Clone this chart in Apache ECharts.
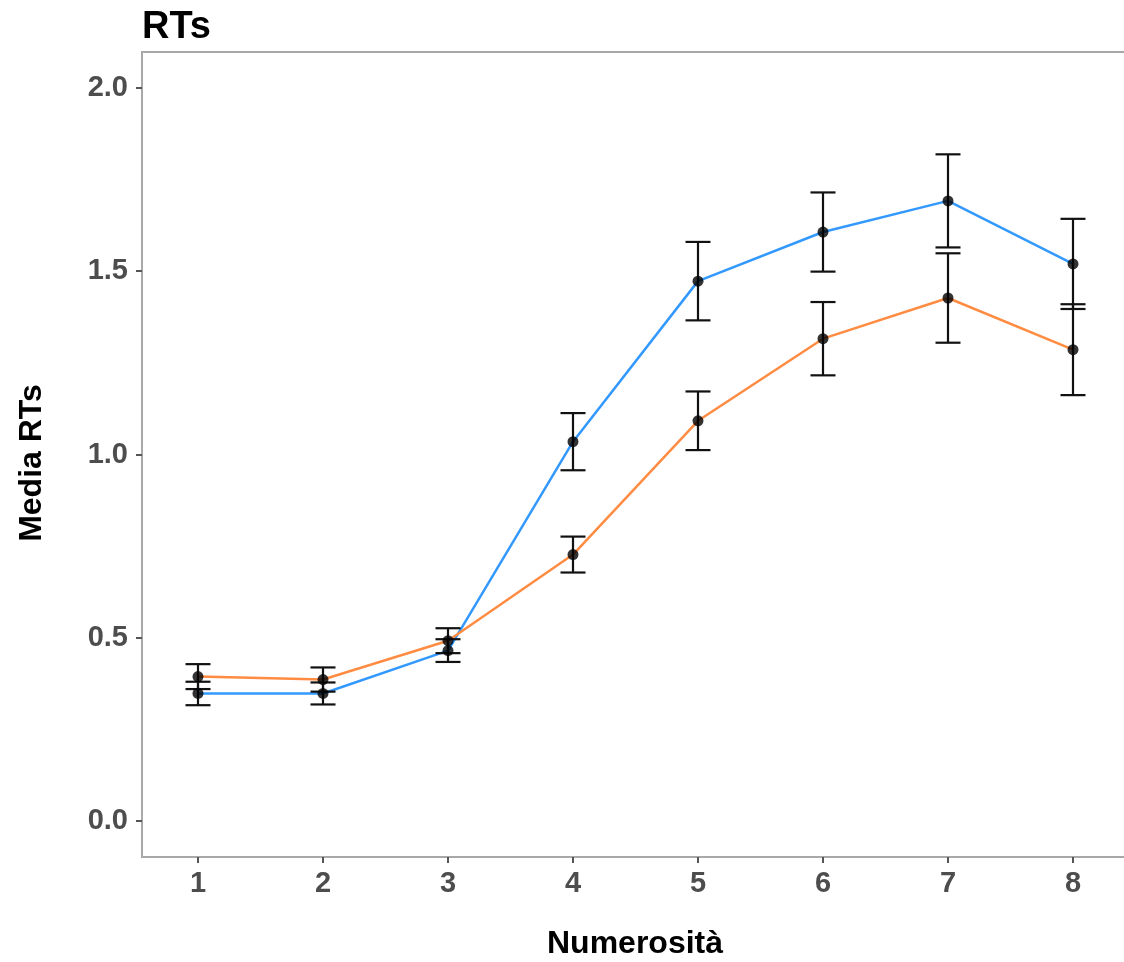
<!DOCTYPE html>
<html>
<head>
<meta charset="utf-8">
<script src="https://cdn.jsdelivr.net/npm/echarts@6/dist/echarts.min.js"></script>
<style>
  html, body { margin: 0; padding: 0; background: #fff; }
  #chart { width: 1124px; height: 962px; }
</style>
</head>
<body>
<div id="chart"></div>
<script>
// Numerosity levels on the x axis
const numerosita = [1, 2, 3, 4, 5, 6, 7, 8];

// Mean reaction times and standard errors, two conditions
const meanBlue = [0.348, 0.348, 0.465, 1.035, 1.473, 1.607, 1.692, 1.520];
const seBlue   = [0.032, 0.030, 0.031, 0.078, 0.107, 0.108, 0.127, 0.123];
const meanOrange = [0.394, 0.386, 0.492, 0.727, 1.092, 1.316, 1.427, 1.286];
const seOrange   = [0.034, 0.033, 0.034, 0.049, 0.080, 0.100, 0.122, 0.124];

// Axis ticks
const yTicks = [0, 0.5, 1.0, 1.5, 2.0];
const xTicks = numerosita;

const BLUE = '#3399FF';
const ORANGE = '#FF8C42';
const FONT = 'Liberation Sans, Arial, sans-serif';

const pairs = (xs, ys) => xs.map((x, i) => [x, ys[i]]);
const errRows = (xs, m, s) => xs.map((x, i) => [x, m[i] - s[i], m[i] + s[i]]);

// Error bar with horizontal caps
function renderErr(params, api) {
  const x = api.value(0);
  const lo = api.coord([x, api.value(1)]);
  const hi = api.coord([x, api.value(2)]);
  const half = 12.5;
  const style = { stroke: '#111', lineWidth: 2.2, fill: null };
  return {
    type: 'group',
    children: [
      { type: 'line', shape: { x1: lo[0], y1: lo[1], x2: hi[0], y2: hi[1] }, style },
      { type: 'line', shape: { x1: lo[0] - half, y1: lo[1], x2: lo[0] + half, y2: lo[1] }, style },
      { type: 'line', shape: { x1: hi[0] - half, y1: hi[1], x2: hi[0] + half, y2: hi[1] }, style }
    ]
  };
}

const chart = echarts.init(document.getElementById('chart'), null, { renderer: 'canvas' });

const axisLabelStyle = { color: '#4D4D4D', fontSize: 29, fontWeight: 'bold', fontFamily: FONT };

chart.setOption({
  animation: false,
  backgroundColor: '#ffffff',
  title: {
    text: 'RTs',
    left: 137,
    top: 4,
    textStyle: { color: '#000', fontSize: 38, fontWeight: 'bold', fontFamily: FONT }
  },
  grid: {
    left: 142, top: 52, width: 987, height: 805,
    outerBoundsMode: 'none',
    show: true, borderColor: '#A8A8A8', borderWidth: 2, backgroundColor: '#fff'
  },
  xAxis: {
    type: 'value',
    min: 0.552, max: 8.448,
    splitLine: { show: false },
    axisLine: { show: false, onZero: false },
    axisTick: { show: true, customValues: xTicks, length: 6, lineStyle: { color: '#555', width: 2 } },
    axisLabel: Object.assign({ customValues: xTicks, margin: 12, formatter: v => String(v) }, axisLabelStyle)
  },
  yAxis: {
    type: 'value',
    min: -0.0982, max: 2.0982,
    splitLine: { show: false },
    axisLine: { show: false, onZero: false },
    axisTick: { show: true, customValues: yTicks, length: 6, lineStyle: { color: '#555', width: 2 } },
    axisLabel: Object.assign({ customValues: yTicks, margin: 14, formatter: v => v.toFixed(1) }, axisLabelStyle)
  },
  graphic: [
    {
      type: 'text', x: 635, y: 928,
      style: { text: 'Numerosità', fill: '#000', font: 'bold 32px ' + FONT, align: 'center', verticalAlign: 'top' }
    },
    {
      type: 'text', rotation: Math.PI / 2, x: 16, y: 463,
      style: { text: 'Media RTs', fill: '#000', font: 'bold 32px ' + FONT, align: 'center', verticalAlign: 'top' }
    }
  ],
  series: [
    {
      type: 'line', data: pairs(numerosita, meanBlue), showSymbol: false,
      lineStyle: { color: BLUE, width: 2.5 }, z: 2
    },
    {
      type: 'line', data: pairs(numerosita, meanOrange), showSymbol: false,
      lineStyle: { color: ORANGE, width: 2.5 }, z: 2
    },
    { type: 'custom', renderItem: renderErr, data: errRows(numerosita, meanBlue, seBlue), z: 3 },
    { type: 'custom', renderItem: renderErr, data: errRows(numerosita, meanOrange, seOrange), z: 3 },
    {
      type: 'scatter', data: pairs(numerosita, meanBlue), symbolSize: 11,
      itemStyle: { color: '#000' }, z: 4
    },
    {
      type: 'scatter', data: pairs(numerosita, meanOrange), symbolSize: 11,
      itemStyle: { color: '#000' }, z: 4
    }
  ]
});
</script>
</body>
</html>
